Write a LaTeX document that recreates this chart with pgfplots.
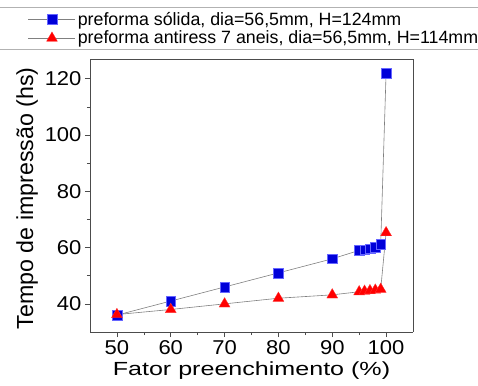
\documentclass[border=0pt]{standalone}
\usepackage{fontspec}
\setmainfont{Liberation Sans}
\newfontfamily\tickfont[FakeStretch=1.1]{Liberation Sans}
\newfontfamily\xlabfont[FakeStretch=1.32]{Liberation Sans}
\usepackage{pgfplots}
\pgfplotsset{compat=1.18}
\begin{document}
\begin{tikzpicture}
\path[use as bounding box] (0,0) rectangle (478pt,385pt);
\draw[gray!60, line width=0.8pt] (0,377.5pt) -- (478pt,377.5pt);
\draw[gray!60, line width=0.8pt] (0,336pt) -- (478pt,336pt);
\begin{axis}[
  at={(90pt,53pt)}, anchor=south west,
  scale only axis, width=323pt, height=273pt,
  xmin=45, xmax=105, ymin=30, ymax=127,
  xtick={50,60,...,100}, ytick={40,60,...,120},
  minor x tick num=1, minor y tick num=1,
  axis x line*=bottom, axis y line*=left,
  tick align=outside, major tick length=5pt, minor tick length=3pt,
  every tick/.style={black!70, line width=0.6pt},
  axis line style={black!70, line width=0.8pt},
  /pgf/number format/assume math mode=true,
  ticklabel style={font=\tickfont\fontsize{20}{20}\selectfont},
  xlabel={Fator preenchimento (\%)},
  ylabel={Tempo de impressão (hs)},
  xlabel style={font=\xlabfont\fontsize{19}{20}\selectfont, at={(axis description cs:0.5,-0.14)}, anchor=center},
  ylabel style={font=\fontsize{23.2}{23.5}\selectfont, at={(axis description cs:-0.195,0.49)}, anchor=center, rotate=0},
  legend style={at={(axis description cs:-0.192,1.18)}, anchor=north west, draw=none, fill=none,
    font=\fontsize{17.8}{17.8}\selectfont, row sep=0.3pt, inner sep=0pt, cells={anchor=west}},
  legend image code/.code={\draw[#1, mark repeat=2, mark phase=2] plot coordinates {(0pt,0pt) (23.5pt,0pt) (47pt,0pt)};},
  clip=false,
]
\draw[black!70, line width=0.8pt] (rel axis cs:0,1) -- (rel axis cs:1,1) -- (rel axis cs:1,0);
\addplot[gray, line width=0.6pt, mark=square*, mark size=4.8pt, mark options={draw=blue!60, fill=blue!85!black, line width=0.3pt}] coordinates {
(50,36) (60,41) (70,46) (80,51) (90,56) (95,59) (96,59.2) (97,59.6) (98,60.2) (99,61.2) (100,122)
};
\addlegendentry{preforma sólida, dia=56,5mm, H=124mm}
\addplot[gray, line width=0.6pt, mark=triangle*, mark size=6.3pt, mark options={draw=red!80, fill=red, line width=0.3pt}] coordinates {
(50,36.2) (60,38) (70,40) (80,42) (90,43.2) (95,44.3) (96,44.5) (97,44.7) (98,44.9) (99,45.2) (100,65.3)
};
\addlegendentry{preforma antiress 7 aneis, dia=56,5mm, H=114mm}
\end{axis}
\end{tikzpicture}
\end{document}
